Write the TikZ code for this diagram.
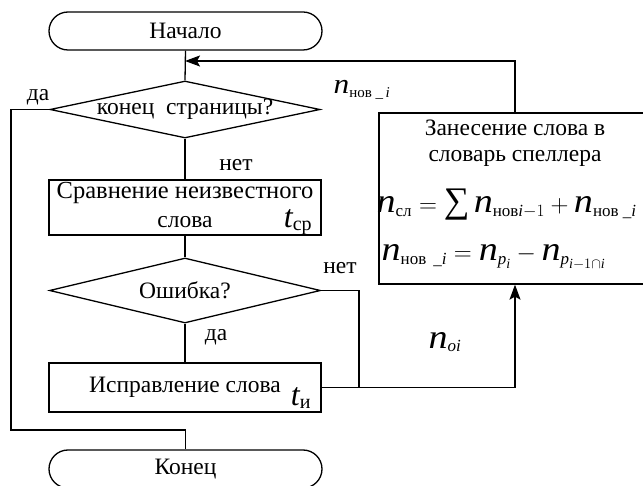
\documentclass[tikz,border=0pt]{standalone}
\usepackage{amsmath}
\usepackage{fontspec}
\setmainfont{Liberation Serif}
\newfontfamily\mathn[FakeStretch=1.12]{Liberation Serif}
\usetikzlibrary{shapes.geometric,arrows.meta}
\DeclareMathSizes{34}{34}{17}{14}
\DeclareMathSizes{32}{32}{20}{14}
\DeclareMathSizes{28}{28}{15}{11}
\newcommand{\vn}{\text{\mathn\itshape n}}
\newcommand{\vt}{\text{\itshape t}}
\newcommand{\bigsum}{\mathop{\text{\fontsize{36}{36}\selectfont ∑}}}
\begin{document}
\begin{tikzpicture}[x=1pt,y=-1pt,
  line width=1.3pt,
  every node/.style={font=\fontsize{23.5}{29}\selectfont},
  term/.style={draw, rectangle, rounded corners=19pt, minimum width=273pt, minimum height=38pt, inner sep=0pt},
  dec/.style={draw, diamond, inner sep=0pt},
  proc/.style={draw, rectangle, inner sep=0pt},
  lbl/.style={inner sep=0pt},
  formula/.style={inner sep=0pt, font=\fontsize{34}{38}\selectfont},
  tvar/.style={inner sep=0pt, font=\fontsize{32}{36}\selectfont},
  arr/.style={-{Stealth[length=15pt,width=11pt,inset=3pt]}}
]
\useasboundingbox (0,0) rectangle (643,486);
\fill[white] (0,0) rectangle (643,486);

\node[term] (start) at (185.5,31) {Начало};
\node[dec, minimum width=270pt, minimum height=57pt] (d1) at (185,109.5) {\makebox[0pt]{конец\ \ страницы?}};
\node[proc, minimum width=272pt, minimum height=55pt] (b1) at (185,207.5) {};
\node[lbl, font=\fontsize{24.5}{29}\selectfont] (b1t1) at (185,193) {Сравнение неизвестного};
\node[lbl] (b1t2) at (185,222) {слова};
\node[tvar] (tcp) at (298,222) {$\vt_{\text{ср}}$};
\node[dec, minimum width=271pt, minimum height=65pt] (d2) at (185,290.5) {\makebox[0pt]{Ошибка?}};
\node[proc, minimum width=272pt, minimum height=49pt] (b2) at (185,387.5) {\makebox[0pt]{Исправление слова}};
\node[tvar] (ti) at (301,398) {$\vt_{\text{и}}$};
\node[term] (end) at (185.5,469) {Конец};

\node[proc, minimum width=272pt, minimum height=171pt] (box) at (515,198.5) {};
\node[lbl] (bt1) at (515,128) {Занесение слова в};
\node[lbl] (bt2) at (515,158) {словарь спеллера};
\node[formula, anchor=west] (f1) at (376,205) {$\vn_{\text{сл}} = \bigsum \vn_{\text{нов}\textit{i}-1} + \vn_{\text{нов \_\textit{i}}}$};
\node[formula, anchor=west] (f2) at (381,257) {$\vn_{\text{нов\hspace{7pt}\_\textit{i}}} = \vn_{\textit{p}_{\textit{i}}} - \vn_{\textit{p}_{\textit{i}-1\cap \textit{i}}}$};

\node[inner sep=0pt, font=\fontsize{28}{32}\selectfont] (lnov) at (362,90) {$\vn_{\text{нов \_\,\textit{i}}}$};
\node[formula] (loi) at (445,342) {$\vn_{\textit{oi}}$};

\node[lbl] (yes1) at (38,97) {да};
\node[lbl] (no1) at (236,165) {нет};
\node[lbl] (no2) at (340,268) {нет};
\node[lbl] (yes2) at (216,337) {да};

\coordinate (j1) at (185,61);
\coordinate (lft) at (11,430);
\coordinate (j2) at (359,387.5);

\draw (start.south) -- (d1.north);
\draw[arr] (box.north) |- (j1);
\draw (d1.south) -- (b1.north);
\draw (d1.west) -| (lft) -| (end.north);
\draw (b1.south) -- (d2.north);
\draw (d2.south) -- (b2.north);
\draw (d2.east) -| (j2);
\draw[arr] (b2.east) -| (box.south);
\end{tikzpicture}
\end{document}
